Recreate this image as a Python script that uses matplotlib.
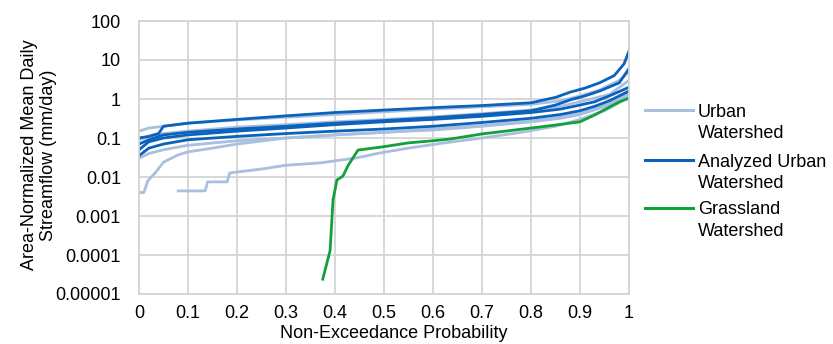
import matplotlib
matplotlib.use("Agg")
import matplotlib.pyplot as plt
from matplotlib.lines import Line2D
from matplotlib.ticker import FixedLocator, FixedFormatter, NullLocator

# Urban watersheds (light blue), probability / flow pairs
urban_p = [
    [0, 0.02, 0.05, 0.1, 0.2, 0.3, 0.4, 0.5, 0.6, 0.7, 0.8, 0.86, 0.9, 0.94, 0.98, 1.0],
    [0, 0.02, 0.05, 0.1, 0.2, 0.3, 0.4, 0.5, 0.6, 0.7, 0.8, 0.86, 0.9, 0.96, 1.0],
    [0, 0.02, 0.05, 0.1, 0.2, 0.3, 0.4, 0.5, 0.6, 0.7, 0.8, 0.86, 0.9, 0.96, 1.0],
    [0, 0.01, 0.018, 0.033, 0.05, 0.08, 0.1, 0.15, 0.2, 0.3, 0.4, 0.5, 0.6, 0.7, 0.8, 0.86, 0.9, 0.96, 1.0],
    [0.08, 0.135, 0.14, 0.18, 0.185, 0.25, 0.3, 0.37, 0.445, 0.49, 0.55, 0.62, 0.7, 0.78, 0.85, 0.9, 0.95, 0.98, 1.0],
]
urban_q = [
    [0.15, 0.18, 0.2, 0.24, 0.29, 0.34, 0.4, 0.47, 0.55, 0.63, 0.73, 0.9, 1.2, 1.7, 3.0, 5.0],
    [0.09, 0.11, 0.13, 0.15, 0.19, 0.22, 0.26, 0.3, 0.35, 0.42, 0.52, 0.65, 0.85, 1.3, 3.0],
    [0.03, 0.04, 0.05, 0.065, 0.085, 0.1, 0.12, 0.14, 0.16, 0.2, 0.26, 0.32, 0.4, 0.7, 1.3],
    [0.004, 0.004, 0.008, 0.0127, 0.024, 0.037, 0.044, 0.055, 0.07, 0.1, 0.12, 0.14, 0.17, 0.21, 0.27, 0.34, 0.42, 0.75, 1.4],
    [0.0044, 0.0044, 0.0075, 0.0075, 0.0127, 0.016, 0.02, 0.023, 0.031, 0.041, 0.055, 0.074, 0.1, 0.14, 0.2, 0.3, 0.5, 0.8, 1.2],
]

# Analyzed urban watersheds (dark blue)
analyzed_p = [
    [0, 0.02, 0.04, 0.05, 0.1, 0.2, 0.3, 0.4, 0.5, 0.6, 0.7, 0.8, 0.85, 0.88, 0.91, 0.94, 0.97, 0.99, 1.0],
    [0, 0.02, 0.05, 0.1, 0.2, 0.3, 0.4, 0.5, 0.6, 0.7, 0.8, 0.85, 0.88, 0.91, 0.94, 0.98, 1.0],
    [0, 0.02, 0.05, 0.1, 0.2, 0.3, 0.4, 0.5, 0.6, 0.7, 0.8, 0.86, 0.9, 0.93, 0.96, 1.0],
    [0, 0.02, 0.05, 0.1, 0.2, 0.3, 0.4, 0.5, 0.6, 0.7, 0.8, 0.86, 0.9, 0.93, 0.96, 1.0],
]
analyzed_q = [
    [0.1, 0.11, 0.13, 0.2, 0.24, 0.3, 0.37, 0.45, 0.52, 0.6, 0.68, 0.8, 1.1, 1.5, 1.9, 2.6, 4.0, 8.0, 17.0],
    [0.07, 0.09, 0.12, 0.14, 0.17, 0.2, 0.24, 0.28, 0.33, 0.4, 0.5, 0.7, 0.95, 1.2, 1.6, 2.6, 6.0],
    [0.05, 0.08, 0.1, 0.12, 0.15, 0.18, 0.22, 0.26, 0.3, 0.36, 0.45, 0.55, 0.7, 0.85, 1.2, 2.0],
    [0.035, 0.055, 0.07, 0.09, 0.11, 0.13, 0.15, 0.17, 0.2, 0.25, 0.32, 0.4, 0.5, 0.65, 0.9, 1.6],
]

# Grassland watershed (green)
grass_p = [0.375, 0.39, 0.396, 0.404, 0.416, 0.427, 0.447, 0.5, 0.55, 0.6, 0.635, 0.7, 0.8, 0.85, 0.9, 0.93, 0.96, 0.98, 1.0]
grass_q = [2.4e-5, 1.3e-4, 0.0026, 0.0084, 0.0105, 0.02, 0.049, 0.06, 0.075, 0.085, 0.094, 0.127, 0.18, 0.215, 0.26, 0.39, 0.62, 0.84, 1.05]

x_ticks = [0, 0.1, 0.2, 0.3, 0.4, 0.5, 0.6, 0.7, 0.8, 0.9, 1]
x_labels = ["0", "0.1", "0.2", "0.3", "0.4", "0.5", "0.6", "0.7", "0.8", "0.9", "1"]
y_ticks = [1e-5, 1e-4, 1e-3, 1e-2, 1e-1, 1, 10, 100]
y_labels = ["0.00001", "0.0001", "0.001", "0.01", "0.1", "1", "10", "100"]

light = "#A9BFE0"
dark = "#0A62BA"
green = "#12A03A"
grid_c = "#D4D4D4"
fs = 13

plt.rcParams["font.family"] = ["Liberation Sans", "DejaVu Sans"]

W, H = 833, 344
fig = plt.figure(figsize=(W / 100, H / 100), dpi=100)
ax = fig.add_axes([139 / W, 50 / H, 490 / W, 273 / H])

for p, q in zip(urban_p, urban_q):
    ax.plot(p, q, color=light, lw=2.0, solid_joinstyle="round")
for p, q in zip(analyzed_p, analyzed_q):
    ax.plot(p, q, color=dark, lw=2.0, solid_joinstyle="round")
ax.plot(grass_p, grass_q, color=green, lw=2.0, solid_joinstyle="round")

ax.set_yscale("log")
ax.set_xlim(0, 1)
ax.set_ylim(1e-5, 100)
ax.xaxis.set_major_locator(FixedLocator(x_ticks))
ax.xaxis.set_major_formatter(FixedFormatter(x_labels))
ax.yaxis.set_major_locator(FixedLocator(y_ticks))
ax.yaxis.set_major_formatter(FixedFormatter(y_labels))
ax.yaxis.set_minor_locator(NullLocator())
ax.grid(True, color=grid_c, lw=1.3)
ax.set_axisbelow(True)
for s in ax.spines.values():
    s.set_color(grid_c)
    s.set_linewidth(1.3)
ax.tick_params(length=0, labelsize=fs, colors="#000000")
ax.tick_params(axis="x", pad=8)
ax.tick_params(axis="y", pad=13)

fig.text(394 / W, 1 - 333 / H, "Non-Exceedance Probability", fontsize=fs, ha="center", va="center")
fig.text(39 / W, 1 - 155 / H, "Area-Normalized Mean Daily\nStreamflow (mm/day)", fontsize=fs,
         rotation=90, ha="center", va="center", linespacing=1.15)

# legend drawn with the handle on the first text line
entries = [("Urban", "Watershed", light, 110), ("Analyzed Urban", "Watershed", dark, 160),
           ("Grassland", "Watershed", green, 208)]
for l1, l2, col, yy in entries:
    fy = 1 - yy / H
    fig.add_artist(Line2D([645 / W, 693 / W], [fy, fy], color=col, lw=2.2, transform=fig.transFigure))
    fig.text(698 / W, 1 - (yy + 6.5) / H, l1, fontsize=fs, va="baseline", ha="left")
    fig.text(698 / W, 1 - (yy + 28.5) / H, l2, fontsize=fs, va="baseline", ha="left")

fig.savefig("out.png", dpi=100)
